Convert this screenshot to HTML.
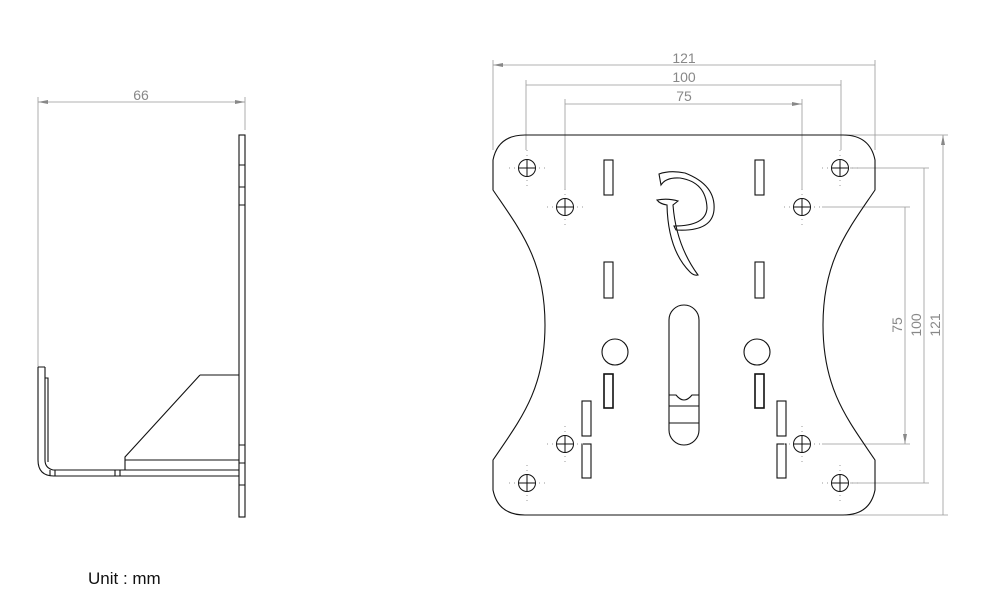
<!DOCTYPE html>
<html><head><meta charset="utf-8"><style>
html,body{margin:0;padding:0;background:#fff;}
svg{display:block;}
text{font-family:"Liberation Sans",sans-serif;}
</style></head><body>
<svg width="1000" height="611" viewBox="0 0 1000 611" xmlns="http://www.w3.org/2000/svg">
<defs>
<marker id="a" viewBox="0 0 10 4" refX="10" refY="2" markerWidth="10" markerHeight="4" orient="auto-start-reverse" markerUnits="userSpaceOnUse"><path d="M0,0 L10,2 L0,4z" fill="#888"/></marker>
<g id="h"><circle r="8.5" fill="none" stroke="#111" stroke-width="1"/><path d="M-8.5,0H8.5M0,-8.5V8.5" stroke="#111" stroke-width="1"/><path d="M-18,0h1M-13,0h1M12,0h1M17,0h1M0,-18v1M0,-13v1M0,12v1M0,17v1" stroke="#999" stroke-width="1"/></g>
</defs>
<g stroke="#999" stroke-width="0.8" fill="none">
<path d="M493,60V150M875,60V150M526,80V150M841,80V150M565,99V190M802,99V190"/>
<path d="M493,65H875M526,85H841M565,104H802" marker-start="url(#a)" marker-end="url(#a)"/>
<path d="M845,135H948M850,168H929M822,207H910M822,444H910M850,483H929M845,515H948"/>
<path d="M943,135V515M924,168V483M905,207V444" marker-start="url(#a)" marker-end="url(#a)"/>
<path d="M38,97V370M245,97V130"/>
<path d="M38,102H245" marker-start="url(#a)" marker-end="url(#a)"/>
</g>
<g fill="#888" font-size="14" text-anchor="middle">
<text x="684" y="63">121</text><text x="684" y="82">100</text><text x="684" y="101">75</text>
<text x="141" y="100">66</text>
<text transform="translate(902,325) rotate(-90)">75</text>
<text transform="translate(921,325) rotate(-90)">100</text>
<text transform="translate(940,325) rotate(-90)">121</text>
</g>
<g stroke="#111" stroke-width="1.1" fill="none">
<path d="M525,135H843Q870,135 875,160V190C848,230 823,260 823,325C823,390 848,420 875,460V490Q870,515 843,515H525Q498,515 493,490V460C520,420 545,390 545,325C545,260 520,230 493,190V160Q498,135 525,135Z"/>
<rect x="604" y="160" width="9" height="35"/><rect x="755" y="160" width="9" height="35"/>
<rect x="604" y="262" width="9" height="36"/><rect x="755" y="262" width="9" height="36"/>
<rect x="604" y="374" width="9" height="34" stroke-width="1.6"/><rect x="755" y="374" width="9" height="34" stroke-width="1.6"/>
<rect x="582" y="401" width="9" height="35"/><rect x="582" y="444" width="9" height="34"/>
<rect x="777" y="401" width="9" height="35"/><rect x="777" y="444" width="9" height="34"/>
<circle cx="615" cy="352" r="13"/><circle cx="757" cy="352" r="13"/>
<path d="M669,320A15,15 0 0 1 699,320V430A15,15 0 0 1 669,430Z"/>
<path d="M669,395H676Q684,405 692,395H699M669,406H699M669,423H699"/>
<path d="M659,174Q670,170 685,173Q716,185 714,210Q712,232 676,230L674,226Q706,226 707,208Q706,182 680,178Q666,177 661,185Z"/>
<path d="M657,200Q668,198 678,201L673,205Q676,245 698,275Q694,276 690,272Q668,250 667,205Q660,204 657,200Z"/>
<rect x="239" y="135" width="6" height="382"/>
<path d="M239,165h6M239,187h6M239,205h6M239,445h6M239,463h6M239,485h6"/>
<path d="M38,367V460Q38,476 54,476H239M45,367H38M45,367V460Q45,468 53,470H239M45,378H48V462"/>
<path d="M200,375H239M200,375L125,457V470M125,460H239M115,470V476M120,470V476M50,470V476M55,470V476"/>
</g>
<use href="#h" x="527" y="168"/><use href="#h" x="840" y="168"/>
<use href="#h" x="565" y="207"/><use href="#h" x="802" y="207"/>
<use href="#h" x="565" y="444"/><use href="#h" x="802" y="444"/>
<use href="#h" x="527" y="483"/><use href="#h" x="840" y="483"/>
<text x="88" y="584" font-size="17" fill="#111">Unit :  mm</text>
</svg>
</body></html>
